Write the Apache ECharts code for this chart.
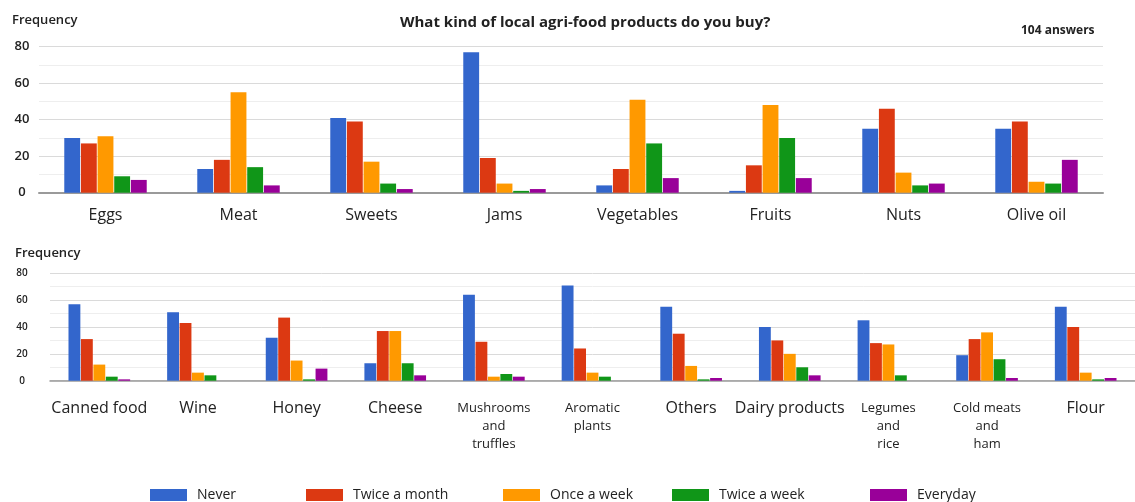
<!DOCTYPE html>
<html><head><meta charset="utf-8">
<script src="https://cdn.jsdelivr.net/npm/echarts@6/dist/echarts.min.js"></script>
<style>html,body{margin:0;padding:0;background:#fff}#chart{width:1135px;height:502px}</style>
</head><body><div id="chart"></div>
<script>
// Response frequencies per product (104 answers)
const seriesNames  = ['Never', 'Twice a month', 'Once a week', 'Twice a week', 'Everyday'];
const seriesColors = ['#3366cc', '#dc3912', '#ff9900', '#109618', '#990099'];

const topCategories  = ['Eggs', 'Meat', 'Sweets', 'Jams', 'Vegetables', 'Fruits', 'Nuts', 'Olive oil'];
const topNever       = [30, 13, 41, 77, 4, 1, 35, 35];
const topTwiceMonth  = [27, 18, 39, 19, 13, 15, 46, 39];
const topOnceWeek    = [31, 55, 17, 5, 51, 48, 11, 6];
const topTwiceWeek   = [9, 14, 5, 1, 27, 30, 4, 5];
const topEveryday    = [7, 4, 2, 2, 8, 8, 5, 18];

const bottomCategories  = ['Canned food', 'Wine', 'Honey', 'Cheese', 'Mushrooms\nand\ntruffles', 'Aromatic\nplants',
                           'Others', 'Dairy products', 'Legumes\nand\nrice', 'Cold meats\nand\nham', 'Flour'];
const bottomNever       = [57, 51, 32, 13, 64, 71, 55, 40, 45, 19, 55];
const bottomTwiceMonth  = [31, 43, 47, 37, 29, 24, 35, 30, 28, 31, 40];
const bottomOnceWeek    = [12, 6, 15, 37, 3, 6, 11, 20, 27, 36, 6];
const bottomTwiceWeek   = [3, 4, 1, 13, 5, 3, 1, 10, 4, 16, 1];
const bottomEveryday    = [1, 0, 9, 4, 3, 0, 2, 4, 0, 2, 2];

const yMax = 80;
const yStep = 20;

const topValues = [topNever, topTwiceMonth, topOnceWeek, topTwiceWeek, topEveryday];
const bottomValues = [bottomNever, bottomTwiceMonth, bottomOnceWeek, bottomTwiceWeek, bottomEveryday];

const FONT = '"Open Sans", "Noto Sans", sans-serif';
const INK = '#222';

function valueAxis(gridIndex, fontSize, margin) {
  return {
    type: 'value', gridIndex, min: 0, max: yMax, interval: yStep,
    axisLabel: { fontSize, color: INK, fontWeight: 600, fontFamily: FONT, align: 'center', margin },
    axisLine: { show: false }, axisTick: { show: false },
    splitLine: { lineStyle: { color: '#dadada', width: 1 } },
    minorTick: { show: false, splitNumber: 2 },
    minorSplitLine: { show: true, lineStyle: { color: '#eeeeee', width: 1 } }
  };
}

function categoryAxis(gridIndex, data, margin, lineWidth, rich) {
  return {
    type: 'category', gridIndex, data,
    axisTick: { show: false },
    axisLine: { lineStyle: { color: '#9a9a9a', width: lineWidth } },
    axisLabel: {
      interval: 0, margin, color: INK, fontFamily: FONT, fontSize: 16,
      formatter: rich ? (v => v.indexOf('\n') >= 0 ? v.split('\n').map(s => '{s|' + s + '}').join('\n') : '{b|' + v + '}') : undefined,
      rich: rich ? {
        s: { fontSize: 13, lineHeight: 18, color: INK, fontFamily: FONT },
        b: { fontSize: 16, lineHeight: 18, color: INK, fontFamily: FONT }
      } : undefined
    }
  };
}

const series = [];
seriesNames.forEach((name, i) => {
  series.push({
    name, type: 'bar', xAxisIndex: 0, yAxisIndex: 0, data: topValues[i],
    itemStyle: { color: seriesColors[i] }, barGap: '5%', barCategoryGap: '38%'
  });
});
seriesNames.forEach((name, i) => {
  series.push({
    name, type: 'bar', xAxisIndex: 1, yAxisIndex: 1, data: bottomValues[i],
    itemStyle: { color: seriesColors[i] }, barGap: '5%', barCategoryGap: '37.5%'
  });
});

const legendLeft = [150, 306, 503, 672, 870];
const legends = seriesNames.map((name, i) => ({
  data: [name], left: legendLeft[i], top: 488, padding: 0,
  itemWidth: 37, itemHeight: 12, icon: 'rect', selectedMode: false,
  textStyle: { fontSize: 14, color: INK, fontFamily: FONT, padding: [0, 0, 0, 5] }
}));

const chart = echarts.init(document.getElementById('chart'), null, { renderer: 'canvas' });
chart.setOption({
  animation: false,
  backgroundColor: '#fff',
  title: [
    { text: 'What kind of local agri-food products do you buy?', left: 400, top: 15, padding: 0,
      textStyle: { fontSize: 15, fontWeight: 'bold', color: INK, fontFamily: FONT } },
    { text: '104 answers', left: 1021, top: 25, padding: 0,
      textStyle: { fontSize: 12, fontWeight: 'bold', color: INK, fontFamily: FONT } },
    { text: 'Frequency', left: 12, top: 14, padding: 0,
      textStyle: { fontSize: 13, fontWeight: 600, color: INK, fontFamily: FONT } },
    { text: 'Frequency', left: 15, top: 247, padding: 0,
      textStyle: { fontSize: 13, fontWeight: 600, color: INK, fontFamily: FONT } }
  ],
  legend: legends,
  grid: [
    { left: 39, right: 32, top: 46.7, height: 146 },
    { left: 50, right: -9, top: 273.3, height: 107.4 }
  ],
  xAxis: [
    categoryAxis(0, topCategories, 15, 2, false),
    categoryAxis(1, bottomCategories, 19, 1.5, true)
  ],
  yAxis: [
    valueAxis(0, 13, 17),
    valueAxis(1, 10, 28)
  ],
  series
});
</script>
</body></html>
